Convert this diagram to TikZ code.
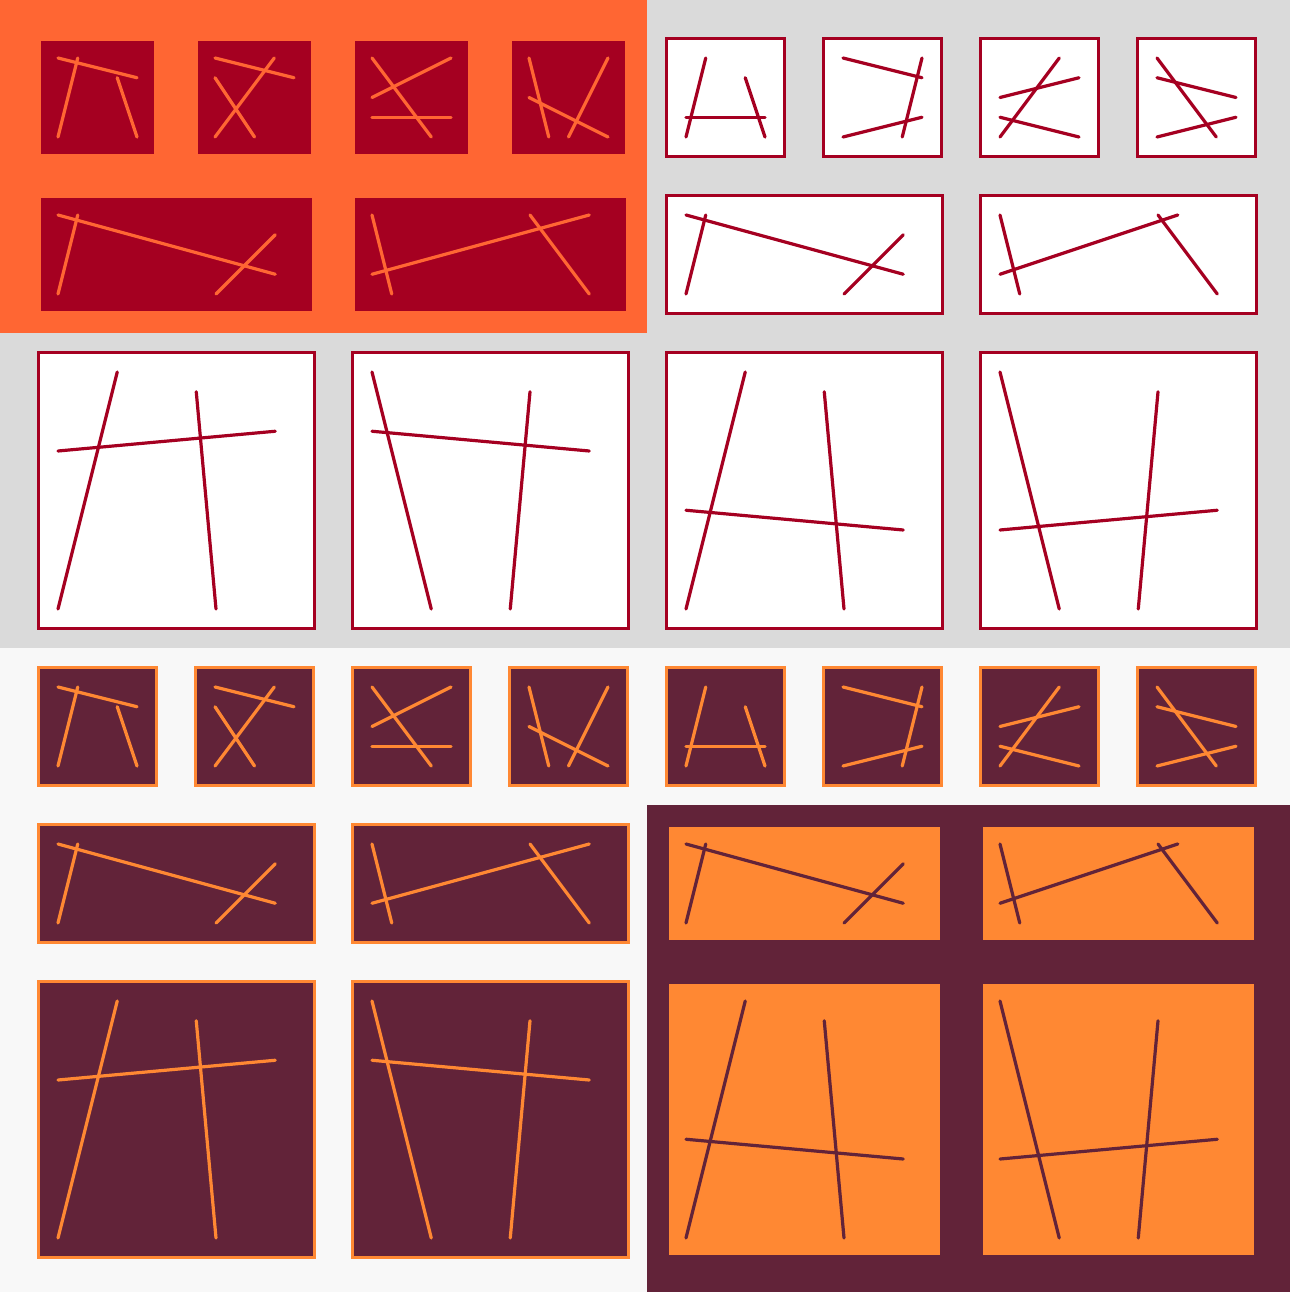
\documentclass[tikz,border=0pt]{standalone}
\usepackage{tikz}

\definecolor{flame}{HTML}{FF6633}
\definecolor{crimson}{HTML}{A50021}
\definecolor{cloud}{HTML}{DADADA}
\definecolor{snow}{HTML}{F8F8F8}
\definecolor{plum}{HTML}{622339}
\definecolor{tangerine}{HTML}{FF8833}

% stroke sets, in grid steps from the panel origin
\newcommand{\glyphA}{0/0/4/1, 1/0/0/4, 3/1/4/4}
\newcommand{\glyphB}{0/0/4/1, 3/0/0/4, 0/1/2/4}
\newcommand{\glyphC}{0/0/3/4, 0/2/4/0, 0/3/4/3}
\newcommand{\glyphD}{0/0/1/4, 4/0/2/4, 0/2/4/4}
\newcommand{\glyphE}{1/0/0/4, 0/3/4/3, 3/1/4/4}
\newcommand{\glyphF}{0/0/4/1, 4/0/3/4, 0/4/4/3}
\newcommand{\glyphG}{3/0/0/4, 0/2/4/1, 0/3/4/4}
\newcommand{\glyphH}{0/0/3/4, 0/1/4/2, 0/4/4/3}
\newcommand{\barA}{0/0/11/3, 1/0/0/4, 11/1/8/4}
\newcommand{\barB}{0/3/11/0, 0/0/1/4, 8/0/11/4}
\newcommand{\barD}{0/0/1/4, 0/3/9/0, 8/0/11/4}
\newcommand{\bigA}{3/0/0/12, 0/4/11/3, 7/1/8/12}
\newcommand{\bigB}{0/0/3/12, 0/3/11/4, 8/1/7/12}
\newcommand{\bigC}{3/0/0/12, 0/7/11/8, 7/1/8/12}
\newcommand{\bigD}{0/0/3/12, 0/8/11/7, 8/1/7/12}

\tikzset{boxpad/.store in=\boxpad, boxpad=17}

% x, y, content width, content height, strokes
\newcommand{\panel}[5]{%
  \draw[box] (#1-\boxpad, #2-\boxpad) rectangle (#1+#3+\boxpad, #2+#4+\boxpad);
  \begin{scope}[shift={(#1,#2)}, x=19.75pt, y=-19.75pt]
    \foreach \xa/\ya/\xb/\yb in #5 {\draw[ink] (\xa,\ya) -- (\xb,\yb);}
  \end{scope}}

\begin{document}
\begin{tikzpicture}[x=1pt, y=-1pt, line cap=round,
    ink/.style={line width=3.2pt},
    box/.style={line width=3.5pt}]
    \useasboundingbox (0,0) rectangle (1290,1292);

    % backgrounds
    \fill[cloud] (0,0) rectangle (1290,648);
    \fill[flame] (0,0) rectangle (647,333);
    \fill[snow] (0,648) rectangle (1290,1292);
    \fill[plum] (647,805) rectangle (1290,1292);

    % top left
    \begin{scope}[boxpad=17, box/.append style={fill=crimson, draw=none},
        ink/.append style={draw=flame}]
        \panel{58}{58}{79}{79}{\glyphA}
        \panel{215}{58}{79}{79}{\glyphB}
        \panel{372}{58}{79}{79}{\glyphC}
        \panel{529}{58}{79}{79}{\glyphD}
        \panel{58}{215}{237}{79}{\barA}
        \panel{372}{215}{237}{79}{\barB}
    \end{scope}

    % top right and middle
    \begin{scope}[boxpad=19.5, box/.append style={fill=white, draw=crimson},
        ink/.append style={draw=crimson}]
        \panel{686}{58}{79}{79}{\glyphE}
        \panel{843}{58}{79}{79}{\glyphF}
        \panel{1000}{58}{79}{79}{\glyphG}
        \panel{1157}{58}{79}{79}{\glyphH}
        \panel{686}{215}{237}{79}{\barA}
        \panel{1000}{215}{237}{79}{\barD}
        \panel{58}{372}{237}{237}{\bigA}
        \panel{372}{372}{237}{237}{\bigB}
        \panel{686}{372}{237}{237}{\bigC}
        \panel{1000}{372}{237}{237}{\bigD}
    \end{scope}

    % bottom half
    \begin{scope}[boxpad=19.5, box/.append style={fill=plum, draw=tangerine},
        ink/.append style={draw=tangerine}]
        \panel{58}{687}{79}{79}{\glyphA}
        \panel{215}{687}{79}{79}{\glyphB}
        \panel{372}{687}{79}{79}{\glyphC}
        \panel{529}{687}{79}{79}{\glyphD}
        \panel{686}{687}{79}{79}{\glyphE}
        \panel{843}{687}{79}{79}{\glyphF}
        \panel{1000}{687}{79}{79}{\glyphG}
        \panel{1157}{687}{79}{79}{\glyphH}
        \panel{58}{844}{237}{79}{\barA}
        \panel{372}{844}{237}{79}{\barB}
        \panel{58}{1001}{237}{237}{\bigA}
        \panel{372}{1001}{237}{237}{\bigB}
    \end{scope}

    % bottom right
    \begin{scope}[boxpad=17, box/.append style={fill=tangerine, draw=none},
        ink/.append style={draw=plum}]
        \panel{686}{844}{237}{79}{\barA}
        \panel{1000}{844}{237}{79}{\barD}
        \panel{686}{1001}{237}{237}{\bigC}
        \panel{1000}{1001}{237}{237}{\bigD}
    \end{scope}
\end{tikzpicture}
\end{document}
